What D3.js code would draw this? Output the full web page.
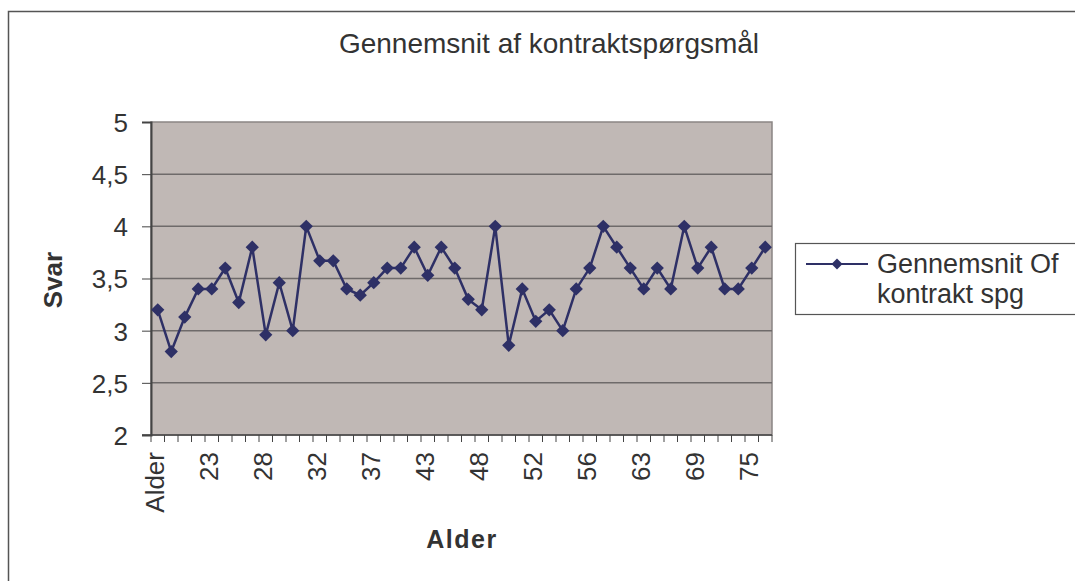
<!DOCTYPE html>
<html>
<head>
<meta charset="utf-8">
<script src="https://d3js.org/d3.v7.min.js"></script>
<style>
  body { margin: 0; background: #fff; }
  text { font-family: "Liberation Sans", Arial, sans-serif; fill: #333; }
</style>
</head>
<body>
<div id="chart"></div>
<script>
// categories (first one is the header cell "Alder" that ended up in the series)
const ages = ["Alder", "20", "21", "22", "23", "24", "25", "26", "28", "29", "30", "31",
  "32", "33", "34", "35", "37", "38", "39", "40", "43", "44", "45", "46",
  "48", "49", "50", "51", "52", "53", "54", "55", "56", "57", "58", "60",
  "63", "64", "65", "67", "69", "70", "71", "72", "75", "76"];

// average answer per age
const avgValues = [3.2, 2.8, 3.13, 3.4, 3.4, 3.6, 3.27, 3.8, 2.96, 3.46, 3.0, 4.0,
  3.67, 3.67, 3.4, 3.34, 3.46, 3.6, 3.6, 3.8, 3.53, 3.8, 3.6, 3.3,
  3.2, 4.0, 2.86, 3.4, 3.09, 3.2, 3.0, 3.4, 3.6, 4.0, 3.8, 3.6,
  3.4, 3.6, 3.4, 4.0, 3.6, 3.8, 3.4, 3.4, 3.6, 3.8];

const yTicks = [2, 2.5, 3, 3.5, 4, 4.5, 5];
const seriesName = ["Gennemsnit Of", "kontrakt spg"];

const W = 1075, H = 581;
const plot = { left: 151, top: 122, right: 772, bottom: 435 };

const svg = d3.select("#chart").append("svg")
  .attr("width", W).attr("height", H);

// outer chart border
svg.append("rect")
  .attr("x", 8.5).attr("y", 11.5)
  .attr("width", W + 10).attr("height", H + 10)
  .attr("fill", "#fff").attr("stroke", "#555").attr("stroke-width", 1.5);

const x = d3.scaleBand().domain(ages).range([plot.left, plot.right]);
const y = d3.scaleLinear().domain([2, 5]).range([plot.bottom, plot.top]);

// plot background
svg.append("rect")
  .attr("x", plot.left).attr("y", plot.top)
  .attr("width", plot.right - plot.left).attr("height", plot.bottom - plot.top)
  .attr("fill", "#c0b8b5").attr("stroke", "#8a8584").attr("stroke-width", 1.5);

// gridlines
svg.append("g").selectAll("line")
  .data(yTicks.filter(d => d > 2 && d < 5))
  .join("line")
  .attr("x1", plot.left).attr("x2", plot.right)
  .attr("y1", d => y(d)).attr("y2", d => y(d))
  .attr("stroke", "#6e6a6a").attr("stroke-width", 1.5);

// y axis
const yAxis = svg.append("g")
  .attr("transform", `translate(${plot.left},0)`)
  .call(d3.axisLeft(y).tickValues(yTicks).tickSize(9).tickPadding(14)
    .tickFormat(d => String(d).replace(".", ",")));
yAxis.select(".domain").attr("stroke", "#444").attr("stroke-width", 2);
yAxis.selectAll(".tick line").attr("stroke", "#444");
yAxis.selectAll("text").style("font-size", "26px").attr("fill", "#333")
  .attr("dy", "0.36em")
  .style("font-family", "'Liberation Sans', Arial, sans-serif");

// x axis: tick marks at category boundaries
const xAxisG = svg.append("g");
xAxisG.append("line")
  .attr("x1", plot.left - 9).attr("x2", plot.right)
  .attr("y1", plot.bottom).attr("y2", plot.bottom)
  .attr("stroke", "#444").attr("stroke-width", 1.5);
xAxisG.selectAll("line.tk")
  .data(ages.concat(["__end"]))
  .join("line").attr("class", "tk")
  .attr("x1", (d, i) => plot.left + i * x.bandwidth())
  .attr("x2", (d, i) => plot.left + i * x.bandwidth())
  .attr("y1", plot.bottom).attr("y2", plot.bottom + 7)
  .attr("stroke", "#444").attr("stroke-width", 1);

// x labels, every 4th category, rotated
xAxisG.selectAll("text")
  .data(ages.filter((d, i) => i % 4 === 0))
  .join("text")
  .attr("transform", d => `translate(${x(d) + x.bandwidth() / 2 + 6},${plot.bottom + 17}) rotate(-90)`)
  .attr("text-anchor", "end")
  .style("font-size", "26px")
  .text(d => d);

// line + markers
const line = d3.line()
  .x((d, i) => x(ages[i]) + x.bandwidth() / 2)
  .y(d => y(d));

svg.append("path")
  .datum(avgValues)
  .attr("d", line)
  .attr("fill", "none")
  .attr("stroke", "#2e3066")
  .attr("stroke-width", 2.5);

const diamond = d3.symbol().type(d3.symbolSquare).size(88);
svg.append("g").selectAll("path")
  .data(avgValues)
  .join("path")
  .attr("d", diamond)
  .attr("transform", (d, i) => `translate(${x(ages[i]) + x.bandwidth() / 2},${y(d)}) rotate(45)`)
  .attr("fill", "#2e3066");

// title
svg.append("text")
  .attr("x", 549).attr("y", 53)
  .attr("text-anchor", "middle")
  .style("font-size", "28px")
  .text("Gennemsnit af kontraktspørgsmål");

// axis titles
svg.append("text")
  .attr("transform", "translate(62,280) rotate(-90)")
  .attr("text-anchor", "middle")
  .style("font-size", "26px").style("font-weight", "bold")
  .text("Svar");

svg.append("text")
  .attr("x", 462).attr("y", 548)
  .attr("text-anchor", "middle")
  .style("font-size", "25px").style("font-weight", "bold")
  .style("letter-spacing", "1.5px")
  .text("Alder");

// legend
const lg = svg.append("g");
lg.append("rect")
  .attr("x", 795.5).attr("y", 243.5)
  .attr("width", 300).attr("height", 71)
  .attr("fill", "#fff").attr("stroke", "#555").attr("stroke-width", 1.2);
lg.append("line")
  .attr("x1", 806).attr("x2", 868).attr("y1", 264).attr("y2", 264)
  .attr("stroke", "#2e3066").attr("stroke-width", 2);
lg.append("path")
  .attr("d", d3.symbol().type(d3.symbolSquare).size(60))
  .attr("transform", "translate(837,264) rotate(45)")
  .attr("fill", "#2e3066");
lg.selectAll("text.lt")
  .data(seriesName)
  .join("text").attr("class", "lt")
  .attr("x", 877).attr("y", (d, i) => 273 + i * 30)
  .style("font-size", "27px")
  .text(d => d);
</script>
</body>
</html>
